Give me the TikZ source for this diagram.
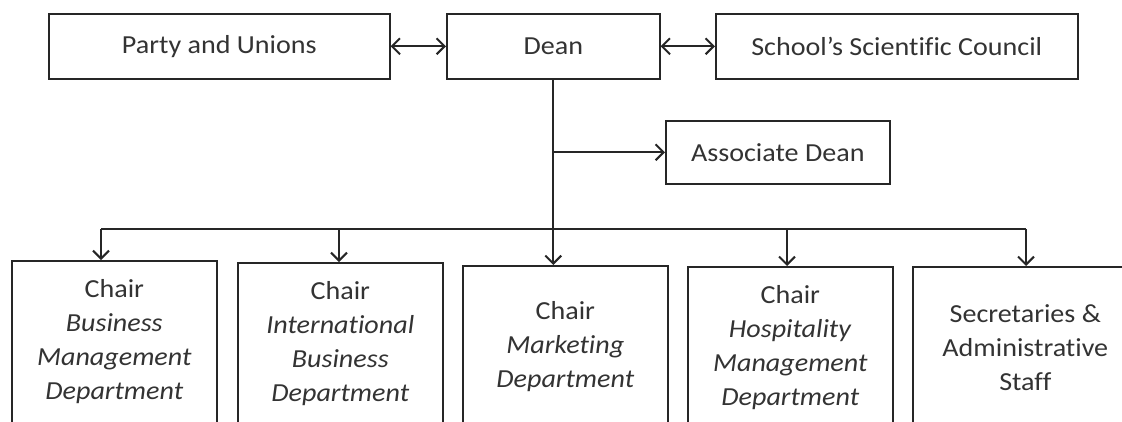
\documentclass[tikz,border=0pt]{standalone}
\usepackage{fontspec}
\setmainfont{Carlito}[FakeStretch=1.08, Ligatures={NoCommon}]
\usetikzlibrary{arrows.meta}
\begin{document}
\begin{tikzpicture}[x=1pt,y=-1pt,
  box/.style={draw=black!85, line width=1.6pt, inner sep=0pt, align=center,
    font=\fontsize{26}{34}\selectfont, text=black!80, anchor=north west},
  topbox/.style={box, minimum height=65pt},
  chairbox/.style={box, minimum width=205pt, minimum height=162pt},
  conn/.style={draw=black!85, line width=2pt},
  tip/.style={-{Straight Barb[length=8pt,width=16pt]}},
  both/.style={{Straight Barb[length=8pt,width=16pt]}-{Straight Barb[length=8pt,width=16pt]}}]
\path[use as bounding box, clip] (0,0) rectangle (1122,421);
% top row
\node[topbox, minimum width=341pt] (party) at (48,13) {Party and Unions};
\node[topbox, minimum width=213pt] (dean) at (446,13) {Dean};
\node[topbox, minimum width=362pt] (council) at (715,13) {School’s Scientific Council};
\node[box, minimum width=224pt, minimum height=63pt] (assoc) at (665,120) {Associate Dean};
% bottom row
\node[chairbox] (c1) at (11,260) {Chair\\\textit{Business}\\\textit{Management}\\\textit{Department}};
\node[chairbox] (c2) at (237,262) {Chair\\\textit{International}\\\textit{Business}\\\textit{Department}};
\node[chairbox] (c3) at (462,265) {Chair\\\textit{Marketing}\\\textit{Department}};
\node[chairbox] (c4) at (687,266) {Chair\\\textit{Hospitality}\\\textit{Management}\\\textit{Department}};
\node[chairbox, minimum width=225pt] (c5) at (912,266) {Secretaries \&\\Administrative\\Staff};
% connectors
\draw[conn, both] (party) -- (dean);
\draw[conn, both] (dean) -- (council);
\draw[conn, tip] (dean.south) -- (dean.south |- c3.north);
\draw[conn, tip] (dean.south |- assoc.west) -- (assoc.west);
\coordinate (b1) at (101,229);
\coordinate (b2) at (339,229);
\coordinate (b4) at (787,229);
\coordinate (b5) at (1026,229);
\draw[conn, line join=round] (b1) -- (b5);
\draw[conn, tip] (b1) -- (b1 |- c1.north);
\draw[conn, tip] (b2) -- (b2 |- c2.north);
\draw[conn, tip] (b4) -- (b4 |- c4.north);
\draw[conn, tip] (b5) -- (b5 |- c5.north);
\end{tikzpicture}
\end{document}
